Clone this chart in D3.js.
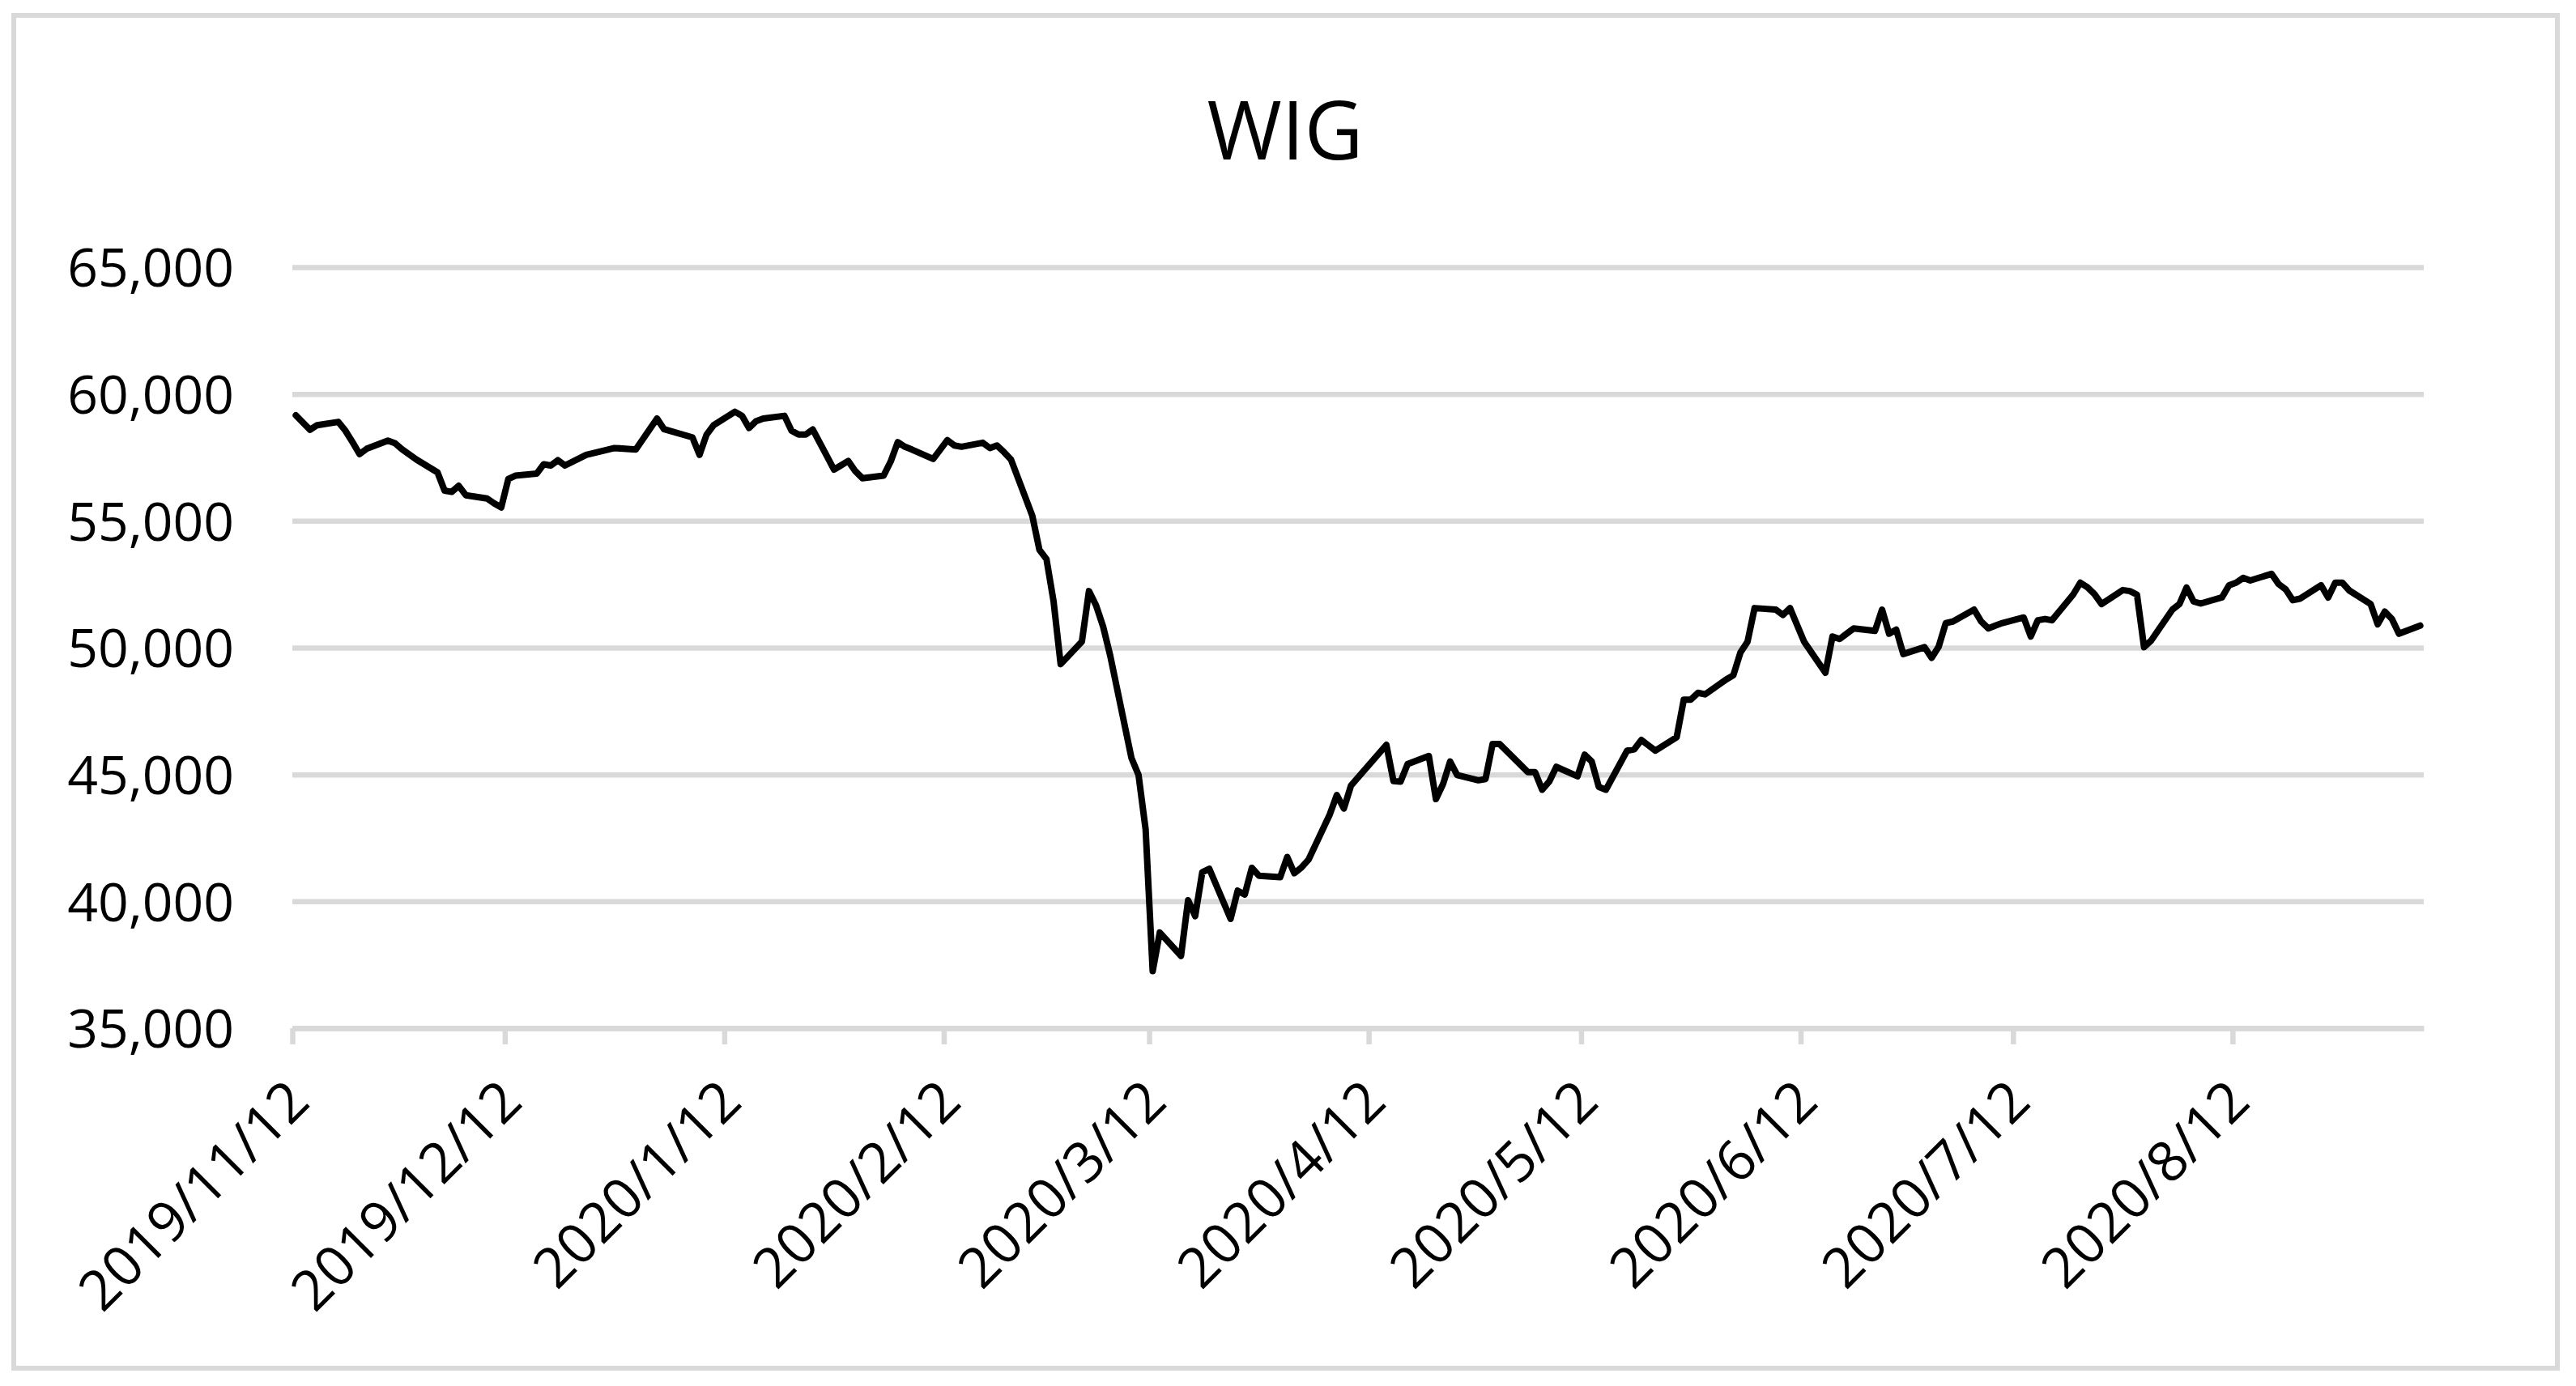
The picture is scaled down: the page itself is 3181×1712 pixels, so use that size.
<!DOCTYPE html>
<html>
<head>
<meta charset="utf-8">
<script src="https://cdn.jsdelivr.net/npm/d3@7"></script>
<style>
  html, body { margin: 0; padding: 0; background: #fff; }
  svg { display: block; }
</style>
</head>
<body>
<svg id="chart" width="3181" height="1712"></svg>
<script>
// ---- DATA ----
const title = "WIG";

const dates = [
  "2019-11-12","2019-11-13","2019-11-14","2019-11-15","2019-11-18","2019-11-19","2019-11-20","2019-11-21","2019-11-22",
  "2019-11-25","2019-11-26","2019-11-27","2019-11-28","2019-11-29",
  "2019-12-02","2019-12-03","2019-12-04","2019-12-05","2019-12-06",
  "2019-12-09","2019-12-10","2019-12-11","2019-12-12","2019-12-13",
  "2019-12-16","2019-12-17","2019-12-18","2019-12-19","2019-12-20",
  "2019-12-23","2019-12-27","2019-12-30",
  "2020-01-02","2020-01-03","2020-01-07","2020-01-08","2020-01-09","2020-01-10",
  "2020-01-13","2020-01-14","2020-01-15","2020-01-16","2020-01-17",
  "2020-01-20","2020-01-21","2020-01-22","2020-01-23","2020-01-24",
  "2020-01-27","2020-01-28","2020-01-29","2020-01-30","2020-01-31",
  "2020-02-03","2020-02-04","2020-02-05","2020-02-06","2020-02-07",
  "2020-02-10","2020-02-11","2020-02-12","2020-02-13","2020-02-14",
  "2020-02-17","2020-02-18","2020-02-19","2020-02-20","2020-02-21",
  "2020-02-24","2020-02-25","2020-02-26","2020-02-27","2020-02-28",
  "2020-03-02","2020-03-03","2020-03-04","2020-03-05","2020-03-06",
  "2020-03-09","2020-03-10","2020-03-11","2020-03-12","2020-03-13",
  "2020-03-16","2020-03-17","2020-03-18","2020-03-19","2020-03-20",
  "2020-03-23","2020-03-24","2020-03-25","2020-03-26","2020-03-27",
  "2020-03-30","2020-03-31","2020-04-01","2020-04-02","2020-04-03",
  "2020-04-06","2020-04-07","2020-04-08","2020-04-09",
  "2020-04-14","2020-04-15","2020-04-16","2020-04-17",
  "2020-04-20","2020-04-21","2020-04-22","2020-04-23","2020-04-24",
  "2020-04-27","2020-04-28","2020-04-29","2020-04-30",
  "2020-05-04","2020-05-05","2020-05-06","2020-05-07","2020-05-08",
  "2020-05-11","2020-05-12","2020-05-13","2020-05-14","2020-05-15",
  "2020-05-18","2020-05-19","2020-05-20","2020-05-21","2020-05-22",
  "2020-05-25","2020-05-26","2020-05-27","2020-05-28","2020-05-29",
  "2020-06-01","2020-06-02","2020-06-03","2020-06-04","2020-06-05",
  "2020-06-08","2020-06-09","2020-06-10","2020-06-12",
  "2020-06-15","2020-06-16","2020-06-17","2020-06-18","2020-06-19",
  "2020-06-22","2020-06-23","2020-06-24","2020-06-25","2020-06-26",
  "2020-06-29","2020-06-30","2020-07-01","2020-07-02","2020-07-03",
  "2020-07-06","2020-07-07","2020-07-08","2020-07-09","2020-07-10",
  "2020-07-13","2020-07-14","2020-07-15","2020-07-16","2020-07-17",
  "2020-07-20","2020-07-21","2020-07-22","2020-07-23","2020-07-24",
  "2020-07-27","2020-07-28","2020-07-29","2020-07-30","2020-07-31",
  "2020-08-03","2020-08-04","2020-08-05","2020-08-06","2020-08-07",
  "2020-08-10","2020-08-11","2020-08-12","2020-08-13","2020-08-14",
  "2020-08-17","2020-08-18","2020-08-19","2020-08-20","2020-08-21",
  "2020-08-24","2020-08-25","2020-08-26","2020-08-27","2020-08-28",
  "2020-08-31","2020-09-01","2020-09-02","2020-09-03","2020-09-04",
  "2020-09-07"
];

const wigValues = [
  59160,58870,58590,58770,58900,58550,58100,57630,57840,
  58160,58060,57820,57620,57420,
  56910,56190,56140,56380,56010,
  55880,55690,55530,56650,56780,
  56860,57230,57180,57390,57180,
  57600,57870,57810,
  59030,58610,58290,57600,58400,58770,
  59300,59140,58660,58930,59030,
  59140,58550,58400,58400,58600,
  57020,57190,57360,56960,56680,
  56780,57340,58100,57920,57810,
  57440,57810,58180,57970,57920,
  58080,57870,57970,57710,57410,
  55200,53860,53490,51830,49350,
  50240,52230,51670,50830,49690,
  45650,44980,42840,37250,38770,
  37850,40040,39420,41150,41280,
  39310,40420,40270,41320,41010,
  40950,41750,41110,41330,41640,
  43420,44190,43660,44560,
  46170,44740,44720,45410,
  45730,44030,44620,45510,44980,
  44770,44820,46200,46200,
  45090,45090,44400,44720,45300,
  44930,45780,45510,44510,44400,
  45940,45990,46360,46150,45940,
  46470,47950,47950,48220,48160,
  48750,48910,49810,50230,51560,
  51500,51290,51560,50230,
  49010,50440,50340,50550,50760,
  50660,51500,50550,50710,49750,
  50020,49600,50040,50970,51030,
  51500,51030,50760,50870,50970,
  51190,50440,51080,51130,51080,
  52100,52560,52380,52110,51720,
  52270,52230,52090,50020,50280,
  51500,51720,52370,51820,51740,
  51980,52460,52560,52750,52650,
  52910,52510,52300,51870,51930,
  52460,51980,52560,52560,52250,
  51720,50920,51420,51130,50550,
  50870
];

const yTicks = [35000, 40000, 45000, 50000, 55000, 60000, 65000];

const xTickDates = ["2019-11-12","2019-12-12","2020-01-12","2020-02-12","2020-03-12",
                    "2020-04-12","2020-05-12","2020-06-12","2020-07-12","2020-08-12"];
const xTickLabels = ["2019/11/12","2019/12/12","2020/1/12","2020/2/12","2020/3/12",
                     "2020/4/12","2020/5/12","2020/6/12","2020/7/12","2020/8/12"];

const xDomain = ["2019-11-12", "2020-09-08"];

// ---- RENDER ----
const parse = d3.utcParse("%Y-%m-%d");
const data = dates.map((d, i) => ({ date: parse(d), value: wigValues[i] }));

const W = 3181, H = 1712;
const plot = { left: 361, right: 2993, top: 330, bottom: 1270 };
const gridColor = "#d9d9d9";
const FONT = "'Open Sans', 'Noto Sans', sans-serif";

const svg = d3.select("#chart");
svg.append("rect").attr("x", 0).attr("y", 0).attr("width", W).attr("height", H).attr("fill", "#fff");

// chart border
svg.append("rect")
  .attr("x", 17).attr("y", 19).attr("width", 3158 - 17).attr("height", 1690 - 19)
  .attr("fill", "none").attr("stroke", gridColor).attr("stroke-width", 6);

const x = d3.scaleUtc().domain(xDomain.map(parse)).range([plot.left, plot.right]);
const y = d3.scaleLinear().domain([35000, 65000]).range([plot.bottom, plot.top]);

// title
svg.append("text")
  .attr("x", 1587).attr("y", 197)
  .attr("text-anchor", "middle")
  .attr("font-family", FONT).attr("font-size", 100)
  .attr("fill", "#000")
  .text(title);

// y axis + gridlines
const yAxis = d3.axisLeft(y)
  .tickValues(yTicks)
  .tickFormat(d3.format(","))
  .tickSize(-(plot.right - plot.left))
  .tickPadding(72);

const gy = svg.append("g").attr("transform", `translate(${plot.left},0)`).call(yAxis);
gy.select(".domain").remove();
gy.selectAll(".tick line").attr("stroke", gridColor).attr("stroke-width", 6.5);
gy.selectAll(".tick text")
  .attr("font-family", FONT).attr("font-size", 66).attr("fill", "#000")
  .attr("dy", "0.36em");

// x axis
const xAxis = d3.axisBottom(x)
  .tickValues(xTickDates.map(parse))
  .tickFormat((d, i) => xTickLabels[i])
  .tickSize(20)
  .tickSizeOuter(0);

const gx = svg.append("g").attr("transform", `translate(0,${plot.bottom})`).call(xAxis);
gx.select(".domain").attr("stroke", gridColor).attr("stroke-width", 6.5);
gx.selectAll(".tick line").attr("stroke", gridColor).attr("stroke-width", 6.5);
gx.selectAll(".tick text")
  .attr("font-family", FONT).attr("font-size", 69).attr("fill", "#000")
  .attr("x", 0).attr("y", 0).attr("dy", 0)
  .attr("text-anchor", "end")
  .attr("transform", "translate(24,94) rotate(-45)");

// line: each trading day is drawn at the middle of its day slot on the date axis
const line = d3.line()
  .x(d => x(d3.utcHour.offset(d.date, 12)))
  .y(d => y(d.value));

svg.append("path")
  .datum(data)
  .attr("d", line)
  .attr("fill", "none")
  .attr("stroke", "#000")
  .attr("stroke-width", 8)
  .attr("stroke-linejoin", "round")
  .attr("stroke-linecap", "round");
</script>
</body>
</html>
